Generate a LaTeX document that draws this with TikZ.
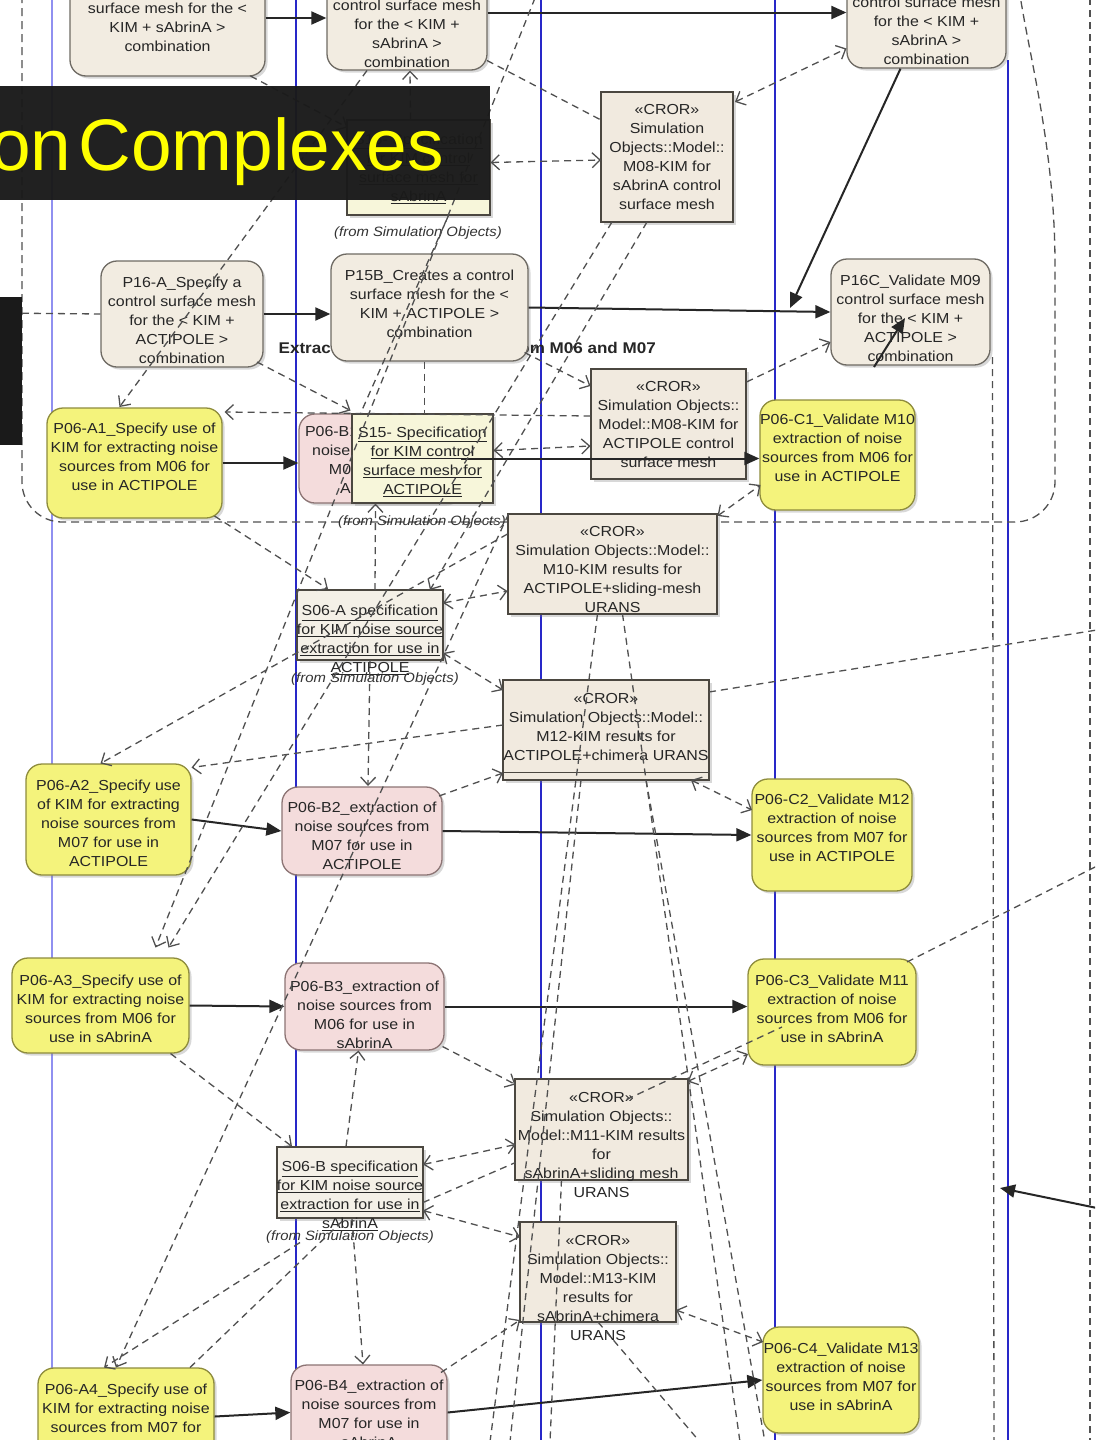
\documentclass[tikz,border=0pt]{standalone}
\usepackage{fontspec}
\setmainfont{Liberation Sans}
\newfontfamily\nodefont[FakeStretch=1.1]{Liberation Sans}
\usetikzlibrary{arrows.meta,shadows,calc}

\definecolor{procfill}{HTML}{F2ECE1}
\definecolor{procdraw}{HTML}{6E6A63}
\definecolor{specfill}{HTML}{F4F37C}
\definecolor{specdraw}{HTML}{8E8C3C}
\definecolor{extrfill}{HTML}{F4DCDC}
\definecolor{extrdraw}{HTML}{8C7474}
\definecolor{notefill}{HTML}{F7F6DA}
\definecolor{objfill}{HTML}{F4F0E7}
\definecolor{crorfill}{HTML}{F1EADF}
\definecolor{crordraw}{HTML}{4B4740}
\definecolor{lanepale}{HTML}{9090F0}
\definecolor{lanedeep}{HTML}{2828C8}
\definecolor{deplink}{HTML}{505050}
\definecolor{titlebg}{HTML}{1A1A1A}
\definecolor{titletext}{HTML}{FFFF00}

\tikzset{
  openv/.tip={Straight Barb[length=8pt,width=15pt]},
  box/.style={draw, line width=1.3pt, inner sep=0pt,
    drop shadow={shadow xshift=2.5pt, shadow yshift=-2.5pt, opacity=.3}},
  proc/.style={box, rounded corners=16pt, fill=procfill, draw=procdraw},
  spec/.style={box, rounded corners=16pt, fill=specfill, draw=specdraw},
  extr/.style={box, rounded corners=16pt, fill=extrfill, draw=extrdraw},
  cror/.style={box, fill=crorfill, draw=crordraw, line width=1.6pt},
  specobj/.style={box, fill=notefill, draw=crordraw},
  kimobj/.style={box, fill=objfill, draw=crordraw, line width=1.6pt},
  lbl/.style={align=center, inner sep=0pt, text=black!85,
    font=\nodefont\fontsize{14.5}{19}\selectfont},
  note/.style={inner sep=0pt, text=black!80,
    font=\nodefont\itshape\fontsize{13.5}{15}\selectfont},
  flow/.style={line width=2pt, black!85, -{Triangle[length=15pt,width=13pt]}},
  link/.style={deplink, line width=1.3pt, dash pattern=on 7pt off 5pt},
  dep/.style={link, -openv},
  dep2/.style={link, openv-openv},
  region/.style={deplink, line width=1.3pt, dash pattern=on 8pt off 5pt},
  lane/.style={line width=1.8pt},
}

% box node plus its text node: style, name, x, y, width, height, text y, text
\newcommand\actnode[8]{%
  \node[#1, minimum width=#5pt, minimum height=#6pt] (#2) at (#3,#4) {};
  \node[lbl] (#2-x) at (#3,#7) {#8};}

\begin{document}
\begin{tikzpicture}[x=1pt, y=-1pt]
\useasboundingbox (0,0) rectangle (1095,1440);
\fill[white] (0,0) rectangle (1095,1440);
\clip (0,0) rectangle (1095,1440);

% swimlane borders
\draw[lane, lanepale] (52,-2) -- (52,1442);
\draw[lane, lanedeep] (296,-2) -- (296,1442);
\draw[lane, lanedeep] (541,-2) -- (541,1442);
\draw[lane, lanedeep] (775,-2) -- (775,1442);
\draw[lane, lanedeep] (1008,60) -- (1008,1442);

% interruptible region
\draw[region] (22,-5) -- (22,482) .. controls (22,504) and (40,522) .. (62,522)
  -- (1015,522) .. controls (1037,522) and (1055,504) .. (1055,482)
  -- (1055,265) .. controls (1055,150) and (1030,60) .. (1020,-5);
\node[anchor=east, inner sep=0pt, text=black!85,
  font=\nodefont\bfseries\fontsize{15.5}{18}\selectfont] (regionlabel) at (656,348)
  {Extraction of noise sources from M06 and M07};

% top row (sAbrinA control surface mesh)
\actnode{proc}{t1}{167.5}{18}{195}{116}{27}{surface mesh for the <\\KIM + sAbrinA >\\combination}
\actnode{proc}{t2}{407}{12.5}{160}{115}{33.5}{control surface mesh\\for the < KIM +\\sAbrinA >\\combination}
\actnode{proc}{t3}{926.5}{11.5}{159}{113}{31}{control surface mesh\\for the < KIM +\\sAbrinA >\\combination}
\actnode{specobj}{s16}{418.5}{167.5}{143}{95}{168.5}{\underline{S16- Specification}\\\underline{for KIM control}\\\underline{surface mesh for}\\\underline{sAbrinA}}
\actnode{cror}{cr1}{667}{157}{132}{130}{157}{«CROR»\\Simulation\\Objects::Model::\\M08-KIM for\\sAbrinA control\\surface mesh}
\node[note] (n1) at (418,233) {(from Simulation Objects)};

% ACTIPOLE control surface mesh
\actnode{proc}{p16a}{182}{314}{162}{106}{320}{P16-A\_Specify a\\control surface mesh\\for the < KIM +\\ACTIPOLE >\\combination}
\actnode{proc}{p15b}{429.5}{307.5}{197}{107}{303.5}{P15B\_Creates a control\\surface mesh for the <\\KIM + ACTIPOLE >\\combination}
\actnode{proc}{p16c}{910.5}{312}{159}{106}{318}{P16C\_Validate M09\\control surface mesh\\for the < KIM +\\ACTIPOLE >\\combination}

% row 1
\actnode{spec}{a1}{134.5}{463}{175}{110}{456.5}{P06-A1\_Specify use of\\KIM for extracting noise\\sources from M06 for\\use in ACTIPOLE}
\actnode{extr}{b1}{379.5}{458.5}{161}{89}{460}{P06-B1\_extraction of\\noise sources from\\M06 for use in\\ACTIPOLE}
\actnode{specobj}{s15}{422.5}{458.5}{141}{89}{461.5}{\underline{S15- Specification}\\\underline{for KIM control}\\\underline{surface mesh for}\\\underline{ACTIPOLE}}
\actnode{cror}{cr2}{668.5}{424}{155}{110}{425}{«CROR»\\Simulation Objects::\\Model::M08-KIM for\\ACTIPOLE control\\surface mesh}
\actnode{spec}{c1}{837.5}{455}{155}{110}{448}{P06-C1\_Validate M10\\extraction of noise\\sources from M06 for\\use in ACTIPOLE}
\node[note] (n2) at (422,522) {(from Simulation Objects)};

% simulation objects, ACTIPOLE
\actnode{cror}{cr3}{612.5}{564}{209}{100}{569.5}{«CROR»\\Simulation Objects::Model::\\M10-KIM results for\\ACTIPOLE+sliding-mesh\\URANS}
\actnode{kimobj}{sa}{370}{625}{146}{70}{640}{\underline{S06-A specification}\\\underline{for KIM noise source}\\\underline{extraction for use in}\\\underline{ACTIPOLE}}
\node[note] (n3) at (375,679) {(from Simulation Objects)};
\actnode{cror}{cr4}{606}{730}{206}{100}{726.5}{«CROR»\\Simulation Objects::Model::\\M12-KIM results for\\ACTIPOLE+chimera URANS}
\draw[crordraw, line width=1.2pt] ($(cr4.south west)+(0,-8)$) -- ($(cr4.south east)+(0,-8)$);

% row 2
\actnode{spec}{a2}{108.5}{819.5}{165}{111}{823.5}{P06-A2\_Specify use\\of KIM for extracting\\noise sources from\\M07 for use in\\ACTIPOLE}
\actnode{extr}{b2}{362}{831}{160}{88}{835.5}{P06-B2\_extraction of\\noise sources from\\M07 for use in\\ACTIPOLE}
\actnode{spec}{c2}{832}{835}{160}{112}{828}{P06-C2\_Validate M12\\extraction of noise\\sources from M07 for\\use in ACTIPOLE}

% row 3
\actnode{spec}{a3}{100.5}{1005.5}{177}{95}{1008.5}{P06-A3\_Specify use of\\KIM for extracting noise\\sources from M06 for\\use in sAbrinA}
\actnode{extr}{b3}{364.5}{1006.5}{159}{87}{1014.5}{P06-B3\_extraction of\\noise sources from\\M06 for use in\\sAbrinA}
\actnode{spec}{c3}{832}{1012}{168}{106}{1008.5}{P06-C3\_Validate M11\\extraction of noise\\sources from M06 for\\use in sAbrinA}

% simulation objects, sAbrinA
\actnode{cror}{cr5}{601.5}{1129.5}{173}{101}{1144.5}{«CROR»\\Simulation Objects::\\Model::M11-KIM results\\for\\sAbrinA+sliding mesh\\URANS}
\actnode{kimobj}{sb}{350}{1182.5}{146}{71}{1196}{\underline{S06-B specification}\\\underline{for KIM noise source}\\\underline{extraction for use in}\\\underline{sAbrinA}}
\node[note] (n4) at (350,1237) {(from Simulation Objects)};
\actnode{cror}{cr6}{598}{1272}{156}{100}{1287.5}{«CROR»\\Simulation Objects::\\Model::M13-KIM\\results for\\sAbrinA+chimera\\URANS}

% row 4
\actnode{spec}{a4}{126}{1416.5}{176}{97}{1417.5}{P06-A4\_Specify use of\\KIM for extracting noise\\sources from M07 for\\use in sAbrinA}
\actnode{extr}{b4}{369}{1412.5}{156}{95}{1413.5}{P06-B4\_extraction of\\noise sources from\\M07 for use in\\sAbrinA}
\actnode{spec}{c4}{841}{1380}{156}{106}{1376.5}{P06-C4\_Validate M13\\extraction of noise\\sources from M07 for\\use in sAbrinA}

% control flow
\draw[flow] (t1.east) -- (t1.east -| t2.west);
\draw[flow] (t2.east) -- (t2.east -| t3.west);
\coordinate (meshjoin) at (790,308);
\draw[flow] ($(t3.south)+(-26,0)$) -- (meshjoin);
\coordinate (meshtail) at (874,367);
\coordinate (meshtip) at (905,318);
\draw[flow] (meshtail) -- (meshtip);
\draw[flow] (p16a.east) -- (p16a.east -| p15b.west);
\draw[flow] (p15b.east) -- (p16c.west);
\draw[flow] (a1.east) -- (a1.east -| b1.west);
\draw[flow] (b1.east) -- (b1.east -| c1.west);
\draw[flow] (a2.east) -- (b2.west);
\draw[flow] (b2.east) -- (c2.west);
\draw[flow] (a3.east) -- (b3.west);
\draw[flow] (b3.east) -- (b3.east -| c3.west);
\draw[flow] (a4.east) -- (b4.west);
\draw[flow] (b4.east) -- (c4.west);
\coordinate (eastin) at (1097,1208);
\coordinate (laneend) at (1000,1188);
\draw[flow] (eastin) -- (laneend);

% object flow and dependencies
\draw[dep] ($(t1)+(83,58)$) -- ($(s16)+(-71,-40)$);
\draw[dep] ($(s16)+(-8,-48)$) -- ($(t2)+(3,58)$);
\coordinate (topfeed) at (535,-2);
\draw[dep] (topfeed) -- ($(a3)+(55,-58)$);
\draw[link] ($(t2)+(80,48)$) -- ($(cr1)+(-66,-37)$);
\draw[dep2] ($(s16)+(72,-5)$) -- ($(cr1)+(-66,3)$);
\draw[dep2] ($(cr1)+(68,-55)$) -- ($(t3)+(-80,37)$);
\draw[dep] ($(t2)+(-40,58)$) -- ($(a1)+(-15,-56)$);
\draw[dep] ($(p16a)+(75,48)$) -- ($(s15)+(-72,-48)$);
\draw[dep] ($(cr2)+(-78,-8)$) -- ($(a1)+(90,-51)$);
\draw[dep2] ($(s15)+(71,-8)$) -- ($(cr2)+(-78,22)$);
\draw[dep] ($(cr2)+(78,-42)$) -- ($(p16c)+(-80,30)$);
\draw[dep] ($(p15b)+(95,45)$) -- ($(cr2)+(-78,-38)$);
\draw[dep2] ($(cr3)+(105,-48)$) -- ($(c1)+(-77,30)$);
\draw[link] ($(s16)+(30,48)$) -- ($(s15)+(-62,-45)$);
\draw[link] ($(p15b)+(-5,54)$) -- ($(s15)+(2,-45)$);
\draw[dep] ($(sa)+(5,-35)$) -- ($(s15)+(-47,45)$);
\draw[dep] ($(a1)+(80,53)$) -- ($(sa)+(-42,-36)$);
\draw[dep] ($(sa)+(0,35)$) -- ($(b2)+(6,-45)$);
\draw[dep] ($(cr3)+(-105,-30)$) -- ($(a2)+(-8,-56)$);
\draw[dep] ($(cr4)+(-103,-5)$) -- ($(a2)+(83,-52)$);
\draw[dep] ($(b2)+(77,-35)$) -- ($(cr4)+(-103,43)$);
\draw[dep2] ($(sa)+(73,-22)$) -- ($(cr3)+(-105,27)$);
\draw[dep2] ($(sa)+(73,28)$) -- ($(cr4)+(-103,-40)$);
\coordinate (eastfeed1) at (1097,630);
\draw[link] ($(cr4)+(103,-38)$) -- (eastfeed1);
\draw[dep2] ($(cr4)+(85,50)$) -- ($(c2)+(-80,-25)$);
\coordinate (eastfeed2) at (1097,866);
\draw[link] ($(c3)+(75,-50)$) -- (eastfeed2);
\draw[dep2] ($(cr5)+(86,-48)$) -- ($(c3)+(-84,42)$);
\draw[link] ($(cr5)+(25,-30)$) -- ($(c3)+(-50,15)$);
\draw[dep] ($(b3)+(78,40)$) -- ($(cr5)+(-86,-45)$);
\draw[dep] ($(a3)+(70,48)$) -- ($(sb)+(-58,-36)$);
\draw[dep] ($(sb)+(-4,-36)$) -- ($(b3)+(-6,44)$);
\draw[dep2] ($(sb)+(73,-18)$) -- ($(cr5)+(-86,15)$);
\draw[link] ($(sb)+(73,20)$) -- ($(cr5)+(-86,33)$);
\draw[dep2] ($(sb)+(73,28)$) -- ($(cr6)+(-78,-35)$);
\draw[dep] ($(sb)+(2,36)$) -- ($(b4)+(-6,-48)$);
\draw[dep] ($(sb)+(-50,60)$) -- ($(a4)+(-22,-49)$);
\draw[link] ($(a4)+(64,-49)$) -- ($(sb)+(-5,36)$);
\draw[dep] ($(b4)+(72,-40)$) -- ($(cr6)+(-78,48)$);
\draw[dep2] ($(cr6)+(78,38)$) -- ($(c4)+(-78,-38)$);
\draw[dep] ($(cr1)+(-55,65)$) -- ($(a3)+(68,-58)$);
\draw[dep] ($(cr3)+(-104,-50)$) -- ($(a4)+(-10,-49)$);
\draw[dep] ($(cr1)+(-20,65)$) -- ($(sa)+(60,-35)$);

% long links leaving through the bottom and sides
\coordinate (sink1) at (490,1442);
\coordinate (sink2) at (740,1442);
\coordinate (sink3) at (510,1442);
\coordinate (sink4) at (765,1442);
\coordinate (sink5) at (550,1442);
\coordinate (sink6) at (700,1442);
\coordinate (sink7) at (994,1442);
\draw[link] ($(cr3)+(-15,50)$) -- (sink1);
\draw[link] ($(cr3)+(10,50)$) -- (sink2);
\draw[link] ($(cr4)+(-25,50)$) -- (sink3);
\draw[link] ($(cr4)+(40,50)$) -- (sink4);
\draw[link] ($(cr5)+(-40,50)$) -- (sink5);
\draw[link] ($(cr6)+(0,50)$) -- (sink6);
\draw[link] ($(p16c)+(82,45)$) -- (sink7);
\coordinate (rimtop) at (1090,-2);
\coordinate (rimbot) at (1090,1442);
\draw[link] (rimtop) -- (rimbot);
\coordinate (westfeed) at (-2,313);
\draw[link] (westfeed) -- (p16a.west);

% heading banner
\fill[titlebg, opacity=.97] (0,86) rectangle (490,200);
\fill[titlebg] (0,297) rectangle (22,445);
\node[anchor=base east, inner sep=0pt, text=titletext,
  font=\fontsize{73}{80}\selectfont] (heading) at (444,170) {on\hspace{-0.18em} Complexes};
\end{tikzpicture}
\end{document}
